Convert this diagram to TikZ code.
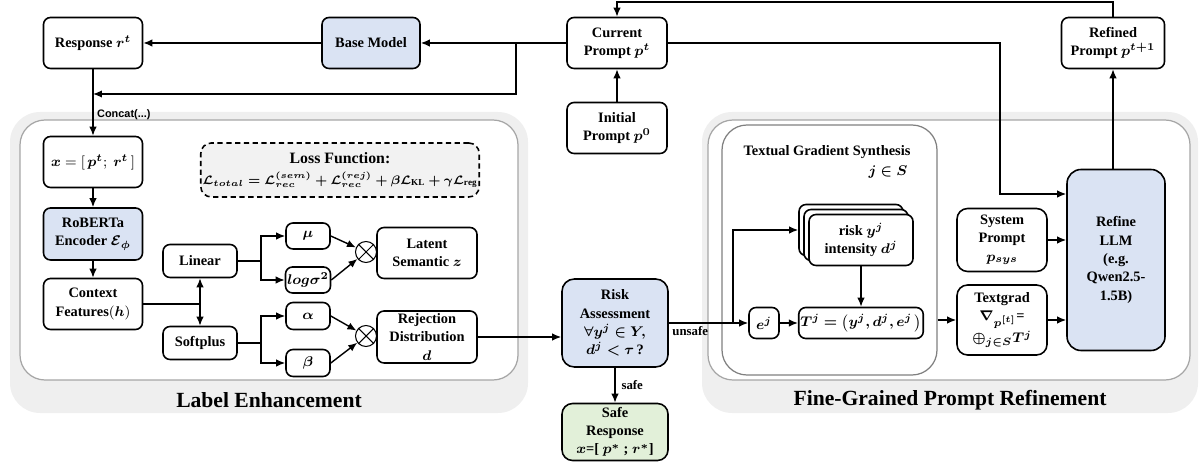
\documentclass[tikz,border=0pt]{standalone}
\usepackage{fontspec}
\setmainfont{Liberation Serif}
\newfontfamily\concatsans{Liberation Sans}
\usepackage{amsmath,amssymb,bm}
\usetikzlibrary{arrows.meta}
\definecolor{boxblue}{HTML}{DAE3F3}
\definecolor{boxgreen}{HTML}{E2F0D9}
\definecolor{panelgray}{HTML}{EFEFEF}
\definecolor{panelline}{HTML}{A6A6A6}
\definecolor{lossgray}{HTML}{F2F2F2}
\newcommand{\boxfont}{\fontsize{8.2}{10.4}\selectfont\bfseries}
\newcommand{\titlefont}{\fontsize{12.3}{14}\selectfont\bfseries}
\newcommand{\edgefont}{\fontsize{7.3}{8}\selectfont\bfseries}
\newcommand{\concatfont}{\fontsize{6.2}{7}\selectfont\concatsans\bfseries}
\newcommand{\formulafont}{\fontsize{7.4}{9}\selectfont}
\begin{document}
\begin{tikzpicture}
				[x=0.02cm,y=-0.02cm,
				box/.style={draw,line width=0.9pt,rounded corners=4pt,fill=white,align=center,font=\boxfont,inner sep=1pt},
				bluebox/.style={box,fill=boxblue},
				sz/.style 2 args={minimum width=#1*0.02cm,minimum height=#2*0.02cm},
				mult/.style={circle,draw,line width=0.6pt,fill=white,minimum size=0.42cm,inner sep=0pt},
				arr/.style={line width=0.8pt,-{Latex[length=1.8mm,width=1.5mm]}},
				ln/.style={line width=0.8pt}]
				\useasboundingbox (0,0) rectangle (1199,465);
				\fill[panelgray,rounded corners=0.6cm] (10,112) rectangle (528,413);
				\draw[panelline,fill=white,line width=0.7pt,rounded corners=0.5cm] (20,120) rectangle (518,380);
				\fill[panelgray,rounded corners=0.6cm] (702,112) rectangle (1198,413);
				\draw[panelline,fill=white,line width=0.7pt,rounded corners=0.5cm] (708,120) rectangle (1190,380);
				\node[font=\titlefont,name=letitle] at (269,400) {Label Enhancement};
				\node[font=\titlefont,name=fgtitle] at (950,400) {Fine-Grained Prompt Refinement};
				\node[box,sz={99}{51},name=resp] at (93,43) {Response $\bm{r^t}$};
				\node[bluebox,sz={98}{51},name=base] at (371,43) {Base Model};
				\node[box,sz={100}{51},name=cur] at (617,43) {Current\\Prompt $\bm{p^t}$};
				\node[box,sz={100}{51},name=init] at (617,128) {Initial\\Prompt $\bm{p^0}$};
				\node[box,sz={103}{51},name=refd] at (1113,43) {Refined\\Prompt $\bm{p^{t+1}}$};
				\node[box,sz={99}{51},name=inp] at (93,162) {$\bm{x} = [\,\bm{p^t};\ \bm{r^t}\,]$};
				\node[bluebox,sz={99}{52},name=enc] at (93,234) {RoBERTa\\Encoder $\bm{\mathcal{E}_\phi}$};
				\node[box,sz={99}{51},name=ctx] at (93,304) {Context\\Features$(\bm{h})$};
				\node[box,sz={74}{33},name=lin] at (200,261) {Linear};
				\node[box,sz={74}{33},name=soft] at (200,343) {Softplus};
				\node[box,sz={44}{26},name=mu] at (308,236) {$\bm{\mu}$};
				\node[box,sz={44}{26},name=lsig] at (308,280) {$\bm{log\sigma^2}$};
				\node[box,sz={44}{27},name=alp] at (308,316) {$\bm{\alpha}$};
				\node[box,sz={44}{27},name=bet] at (308,363) {$\bm{\beta}$};
				\node[mult,name=mul1] at (366,252) {};
				\node[mult,name=mul2] at (366,336) {};
				\node[box,sz={100}{51},name=lat] at (427,253) {Latent\\Semantic $\bm{z}$};
				\node[box,sz={100}{52},name=rej] at (427,337) {Rejection\\Distribution\\$\bm{d}$};
				\node[box,dash pattern=on 3pt off 2pt,fill=lossgray,sz={276}{54},rounded corners=6pt,font=\fontsize{9}{11}\selectfont\bfseries,name=loss] at (340,170) {Loss Function:\\[1pt]{\formulafont$\bm{\mathcal{L}_{total} = \mathcal{L}_{rec}^{(sem)} + \mathcal{L}_{rec}^{(rej)} + \beta\mathcal{L}_{\mathrm{KL}} + \gamma\mathcal{L}_{\mathrm{reg}}}$}};
				\node[bluebox,sz={106}{88},rounded corners=7pt,name=risk] at (615,323) {Risk\\Assessment\\$\bm{\forall y^j \in Y,}$\\$\bm{d^j < \tau}$\,?};
				\node[box,fill=boxgreen,sz={106}{57},rounded corners=6pt,name=safe] at (615,432) {Safe\\Response\\$\bm{x}$=[ $\bm{p^*}$ ; $\bm{r^*}$]};
				\node[draw=gray,line width=0.7pt,rounded corners=0.5cm,sz={215}{250},name=tgs] at (829.5,250) {};
				\node[font=\boxfont,name=tgstitle] at (827,152) {Textual Gradient Synthesis};
				\node[font=\boxfont,name=jin] at (888,172) {$\bm{j \in S}$};
				\node[box,sz={104}{51},name=stk3] at (851,230) {};
				\node[box,sz={104}{51},name=stk2] at (856,235) {};
				\node[box,sz={104}{51},name=stk1] at (861,240) {risk $\bm{y^j}$\\intensity $\bm{d^j}$};
				\node[box,sz={30}{31},name=ej] at (764,323) {$\bm{e^j}$};
				\node[box,sz={118}{31},name=tj] at (861,323) {$\bm{T^j = \bigl(y^j, d^j, e^j\,\bigr)}$};
				\node[box,sz={90}{63},rounded corners=6pt,name=sys] at (1002,240) {System\\Prompt\\$\bm{p_{sys}}$};
				\node[box,sz={90}{70},rounded corners=6pt,name=tg] at (1002,320) {Textgrad\\$\bm{\nabla_{p^{[t]}}}$=\\$\bm{\oplus_{j\in S}T^j}$};
				\node[bluebox,sz={98}{181},rounded corners=8pt,name=llm] at (1116,260) {Refine\\LLM\\(e.g.\\Qwen2.5-\\1.5B)};
				\coordinate (c1) at (516,43);
				\coordinate (c2) at (93,94);
				\coordinate (top) at (617,2);
				\coordinate (c3) at (1000,194);
				\coordinate (jn) at (200,304);
				\coordinate (f1) at (261,261);
				\coordinate (f2) at (261,343);
				\coordinate (br) at (733,323);
				\draw[arr] (cur.west)--(base.east);
				\draw[arr] (base.west)--(resp.east);
				\draw[arr] (c1) |- (c2);
				\draw[arr] (resp.south)--(inp.north) node[pos=0.68,right,inner sep=2pt,font=\concatfont] {Concat(...)};
				\draw[arr] (init.north)--(cur.south);
				\draw[arr] (refd.north) |- (top)--(cur.north);
				\draw[arr] (cur.east) -| (c3)--(c3 -| llm.west);
				\draw[arr] (llm.north -| refd)--(refd.south);
				\draw[arr] (inp)--(enc);
				\draw[arr] (enc)--(ctx);
				\draw[ln] (ctx.east)--(jn);
				\draw[arr] (jn)--(lin.south);
				\draw[arr] (jn)--(soft.north);
				\draw[ln] (lin.east)--(f1);
				\draw[arr] (f1) |- (mu.west);
				\draw[arr] (f1) |- (lsig.west);
				\draw[ln] (soft.east)--(f2);
				\draw[arr] (f2) |- (alp.west);
				\draw[arr] (f2) |- (bet.west);
				\draw[arr] (mu.east)--(mul1);
				\draw[arr] (lsig.east)--(mul1);
				\draw[arr] (alp.east)--(mul2);
				\draw[arr] (bet.east)--(mul2);
				\foreach \m in {mul1,mul2} {
					\draw[line width=0.6pt] (\m.north east)--(\m.south west) (\m.north west)--(\m.south east);
				}
				\draw[arr] (rej.east)--(rej.east -| risk.west);
				\draw[arr] (risk.south)--(safe.north) node[midway,right,font=\edgefont] {safe};
				\draw[arr] (risk.east)--(ej.west) node[pos=0.27,below,inner sep=1.5pt,font=\edgefont] {unsafe};
				\draw[arr] (br) |- (stk3.west);
				\draw[arr] (ej)--(tj);
				\draw[arr] (stk1.south)--(tj.north);
				\draw[arr] (tgs.east |- tg.west)--(tg.west);
				\draw[arr] (sys.east)--(sys.east -| llm.west);
				\draw[arr] (tg.east)--(tg.east -| llm.west);
			\end{tikzpicture}
\end{document}
